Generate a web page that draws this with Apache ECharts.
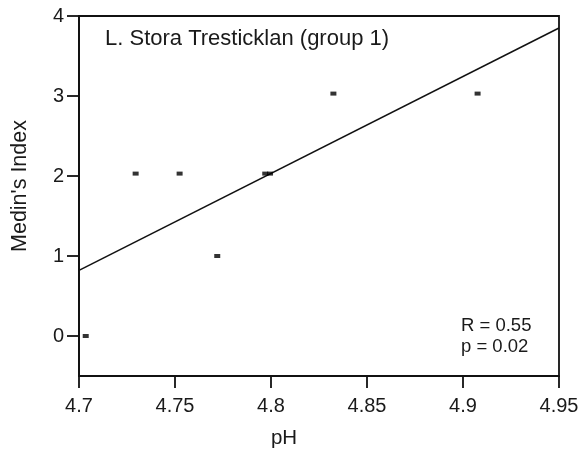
<!DOCTYPE html>
<html>
<head>
<meta charset="utf-8">
<script src="https://cdn.jsdelivr.net/npm/echarts@6/dist/echarts.min.js"></script>
<style>html,body{margin:0;padding:0;background:#fff;}#c{width:586px;height:458px;}</style>
</head>
<body>
<div id="c"></div>
<script>
// ---- data ----
var phValues   = [4.7035, 4.7295, 4.7524, 4.772, 4.797, 4.7995, 4.8325, 4.9076];
var medinIndex = [0, 2.03, 2.03, 1, 2.03, 2.03, 3.03, 3.03];
var fitX = [4.7, 4.95];
var fitY = [0.82, 3.85];
var xTicks = [4.7, 4.75, 4.8, 4.85, 4.9, 4.95];
var yTicks = [0, 1, 2, 3, 4];
var titleText = 'L. Stora Tresticklan (group 1)';
var statsText = ['R = 0.55', 'p = 0.02'];
var xName = 'pH';
var yName = "Medin's Index";

var FONT = '"Liberation Sans", Arial, Helvetica, sans-serif';
var TXT = '#1a1a1a';

var chart = echarts.init(document.getElementById('c'), null, {renderer: 'canvas'});
chart.setOption({
  animation: false,
  backgroundColor: '#fff',
  grid: {left: 79, right: 27, top: 16, bottom: 82, show: true, borderColor: '#111', borderWidth: 1.8, backgroundColor: 'transparent'},
  xAxis: {
    type: 'value', min: 4.7, max: 4.95,
    axisLine: {show: true, onZero: false, lineStyle: {color: '#111', width: 1.8}},
    axisTick: {show: true, customValues: xTicks, length: 12, inside: false, lineStyle: {color: '#111', width: 1.8}},
    axisLabel: {customValues: xTicks, margin: 20, fontSize: 20, color: TXT, fontFamily: FONT,
      formatter: function (v) { return String(+(+v).toFixed(2)); }},
    splitLine: {show: false}
  },
  yAxis: {
    type: 'value', min: -0.5, max: 4,
    axisLine: {show: true, onZero: false, lineStyle: {color: '#111', width: 1.8}},
    axisTick: {show: true, customValues: yTicks, length: 12, lineStyle: {color: '#111', width: 1.8}},
    axisLabel: {customValues: yTicks, margin: 15, fontSize: 20, color: TXT, fontFamily: FONT,
      formatter: function (v) { return String(Math.round(v)); }},
    splitLine: {show: false}
  },
  series: [
    {
      type: 'line',
      data: fitX.map(function (x, i) { return [x, fitY[i]]; }),
      showSymbol: false, symbol: 'none',
      lineStyle: {color: '#111', width: 1.5},
      z: 2
    },
    {
      type: 'scatter',
      data: phValues.map(function (x, i) { return [x, medinIndex[i]]; }),
      symbol: 'rect', symbolSize: [6, 4],
      itemStyle: {color: '#000'},
      z: 3
    }
  ],
  graphic: [
    {type: 'text', left: 105, top: 28, style: {text: titleText, font: '22px ' + FONT, fill: TXT}},
    {type: 'text', left: 461, top: 315, style: {text: statsText.join('\n'), font: '18.5px ' + FONT, lineHeight: 21, fill: TXT}},
    {type: 'text', x: 284, y: 438, style: {text: xName, font: '20.5px ' + FONT, fill: TXT, align: 'center', verticalAlign: 'middle'}},
    {type: 'text', x: 20, y: 186, rotation: Math.PI / 2, style: {text: yName, font: '21.5px ' + FONT, fill: TXT, align: 'center', verticalAlign: 'middle'}}
  ]
});
</script>
</body>
</html>
